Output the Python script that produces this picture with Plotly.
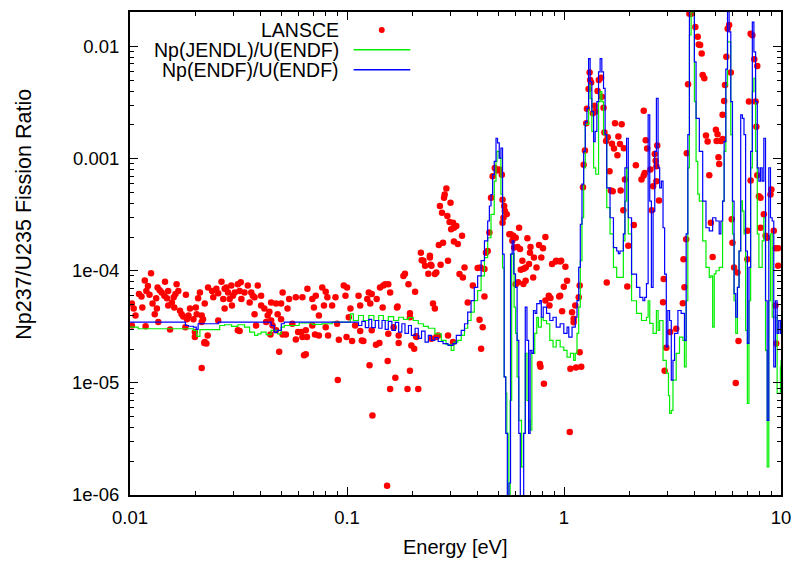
import plotly.graph_objects as go

# ---------------- data ----------------
lansce_energy = [
 0.0125,0.0117,0.0145,0.0121,0.0110,0.0113,0.0119,0.0123,0.0134,0.0137,0.0140,0.0144,0.0150,0.0148,0.0132,
 0.0164,0.0162,0.0159,0.0167,0.0102,0.0104,0.0106,0.0114,0.0127,0.0133,0.0130,0.0150,0.0156,0.0160,0.0181,
 0.0170,0.0173,0.0176,0.0183,0.0186,0.0189,0.0201,0.0203,0.0196,0.0214,0.0217,0.0210,0.0206,0.0221,0.0229,
 0.0239,0.0242,0.0250,0.0255,0.0264,0.0273,0.0269,0.0283,0.0278,0.0293,0.0304,0.0298,0.0288,0.0295,0.0273,
 0.0314,0.0324,0.0320,0.0326,0.0337,0.0349,0.0362,0.0368,0.0356,0.0375,0.0388,0.0402,0.0402,0.0416,0.0447,
 0.0471,0.0497,0.0479,0.0497,0.0439,0.0431,0.0447,0.0424,0.0454,0.0375,0.0381,0.0471,0.0135,0.0118,0.0102,
 0.0153,0.0199,0.0221,0.0314,0.0180,0.0214,0.0255,0.0214,0.0199,0.0220,0.0225,0.0228,0.0320,0.0487,0.0444,
 0.0505,0.0523,0.0581,0.0595,0.0616,0.0634,0.0646,0.0654,0.0712,0.0818,0.0907,0.0917,0.0995,0.1055,0.115,
 0.119,0.127,0.131,0.136,0.141,0.154,0.158,0.167,0.173,0.190,0.195,0.198,0.204,0.208,0.213,
 0.245,0.258,0.153,0.0505,0.0541,0.0532,0.0581,0.0623,0.0657,0.0692,0.0704,0.0718,0.0769,0.0798,0.0812,
 0.0783,0.0854,0.0742,0.0885,0.0966,0.1001,0.0984,0.1037,0.113,0.115,0.124,0.126,0.128,0.137,0.142,
 0.147,0.158,0.170,0.182,0.185,0.192,0.206,0.249,0.254,0.225,0.241,0.229,0.245,0.237,0.0623,
 0.0742,0.117,0.0560,0.0646,0.0692,0.0798,0.0900,0.1019,0.109,0.130,0.155,0.164,0.173,0.195,0.287,
 0.282,0.280,0.268,0.300,0.274,0.290,0.297,0.308,0.319,0.302,0.311,0.339,0.277,0.265,0.311,
 0.324,0.219,0.221,0.241,0.292,0.243,0.270,0.258,0.254,0.348,0.400,0.412,0.330,0.342,0.150,
 0.155,0.130,0.146,0.171,0.360,0.430,0.380,0.195,0.209,0.263,0.292,0.308,0.408,0.422,0.415,
 0.453,0.445,0.430,0.437,0.469,0.480,0.491,0.503,0.517,0.461,0.521,0.530,0.534,0.545,0.521,
 0.526,0.560,0.568,0.584,0.599,0.621,0.578,0.611,0.627,0.678,0.701,0.767,0.821,0.800,0.697,
 0.727,0.786,0.643,0.690,0.747,0.666,0.652,0.632,0.721,0.666,0.650,0.881,0.916,0.960,1.015,
 1.033,0.998,0.960,0.950,0.851,0.866,0.821,0.857,0.980,1.089,1.108,1.169,1.108,1.181,0.779,
 0.774,0.808,1.070,1.136,1.201,1.063,1.181,0.599,0.589,0.615,0.921,0.970,1.127,
 1.223,1.232,1.249,1.266,1.275,1.298,1.312,1.320,1.334,1.359,1.383,1.402,1.428,1.447,1.482,
 1.494,1.521,1.536,1.563,1.591,1.621,1.642,1.677,1.718,1.844,1.781,1.664,1.700,1.763,1.811,
 1.888,1.877,1.909,1.824,1.978,1.958,2.098,2.143,1.574,2.276,2.33,2.38,2.416,2.356,2.33,
 2.502,2.54,2.574,2.62,2.644,2.666,2.69,2.74,2.666,2.88,2.86,2.961,2.909,3.085,3.289,
 3.530,3.553,3.590,3.655,3.68,3.73,3.784,3.852,4.03,4.134,4.178,4.24,4.31,4.357,4.43,
 4.511,4.59,4.671,4.753,4.842,5.012,5.1,5.05,5.15,5.190,5.284,5.380,5.380,5.470,5.52,
 5.6,5.68,5.766,5.870,5.93,5.976,6.077,6.299,6.37,6.187,6.998,6.998,7.117,7.246,7.377,
 7.53,7.775,7.637,7.7,7.775,7.246,7.91,8.050,8.334,8.050,8.485,8.637,9.03,8.944,9.262,
 9.428,9.70,9.70,9.428,9.5,
]
lansce_ratio = [
 9.5e-5,8.2e-5,8.0e-5,7.3e-5,6.2e-5,5.9e-5,6.6e-5,6.1e-5,7.1e-5,6.7e-5,6.4e-5,6.0e-5,6.6e-5,5.7e-5,5.7e-5,
 7.6e-5,6.2e-5,5.8e-5,6.6e-5,5.1e-5,4.6e-5,4.0e-5,4.7e-5,5.1e-5,4.6e-5,4.1e-5,4.9e-5,5.2e-5,4.7e-5,6.1e-5,
 4.4e-5,4.1e-5,3.9e-5,3.7e-5,4.0e-5,4.6e-5,4.7e-5,4.1e-5,3.7e-5,4.0e-5,3.7e-5,6.4e-5,5.7e-5,5.1e-5,7.1e-5,
 6.6e-5,5.8e-5,6.9e-5,6.3e-5,8.0e-5,6.9e-5,5.6e-5,6.4e-5,7.1e-5,7.4e-5,6.4e-5,6.0e-5,5.6e-5,4.9e-5,4.6e-5,
 7.6e-5,7.9e-5,6.6e-5,5.6e-5,6.4e-5,7.4e-5,6.4e-5,6.0e-5,5.2e-5,5.8e-5,7.4e-5,6.0e-5,4.9e-5,4.6e-5,5.2e-5,
 5.1e-5,5.1e-5,4.1e-5,3.7e-5,4.3e-5,4.0e-5,3.6e-5,3.5e-5,3.25e-5,4.1e-5,3.25e-5,2.94e-5,3.5e-5,3.2e-5,3.25e-5,
 3.0e-5,2.84e-5,2.31e-5,2.94e-5,3.14e-5,3.5e-5,3.6e-5,1.36e-5,2.56e-5,2.27e-5,2.24e-5,2.65e-5,2.9e-5,1.9e-5,2.7e-5,
 2.7e-5,2.7e-5,2.44e-5,2.84e-5,2.84e-5,1.76e-5,1.8e-5,2.56e-5,2.7e-5,2.65e-5,1.06e-5,2.43e-5,2.56e-5,2.36e-5,2.9e-5,
 2.36e-5,1.44e-5,5.13e-6,2.19e-5,2.27e-5,1.57e-5,8.84e-6,1.11e-5,2.27e-5,8.84e-6,1.28e-5,2.16e-5,2.02e-5,2.61e-5,8.84e-6,
 2.48e-5,2.56e-5,1.21e-6,6.4e-5,5.6e-5,4.6e-5,5.8e-5,5.8e-5,6.9e-5,5.6e-5,4.7e-5,6.0e-5,7.1e-5,6.5e-5,5.8e-5,
 4.9e-5,4.9e-5,4.0e-5,5.8e-5,7.4e-5,7.1e-5,6.0e-5,4.6e-5,6.0e-5,4.9e-5,5.6e-5,6.4e-5,5.1e-5,5.6e-5,7.1e-5,
 7.4e-5,6.4e-5,4.7e-5,9.0e-5,9.4e-5,7.6e-5,6.5e-5,5.1e-5,4.6e-5,1.23e-4,1.31e-4,1.11e-4,1.11e-4,9.4e-5,2.56e-5,
 2.65e-5,2.39e-5,3.37e-5,2.94e-5,3.25e-5,3.14e-5,3.37e-5,3.85e-5,3.25e-5,2.94e-5,2.74e-5,3.14e-5,2.65e-5,3.85e-5,5.42e-4,
 4.79e-4,4.48e-4,3.78e-4,4.04e-4,3.29e-4,3.08e-4,2.72e-4,2.68e-4,2.51e-4,2.34e-4,2.42e-4,2.05e-4,1.78e-4,1.70e-4,1.82e-4,
 1.73e-4,1.45e-4,1.24e-4,1.36e-4,1.23e-4,1.13e-4,1.13e-4,9.67e-5,9.35e-5,1.07e-4,1.06e-4,1.07e-4,9.35e-5,8.72e-5,7.6e-5,
 7.6e-5,6.2e-5,4.7e-5,4.79e-5,5.2e-5,5.9e-5,7.4e-5,4.18e-5,2.56e-5,2.65e-5,2.65e-5,2.31e-5,3.66e-5,3.14e-5,2.02e-5,
 2.19e-4,1.5e-4,1.035e-4,1.45e-4,6.97e-4,8.26e-4,7.85e-4,7.99e-4,7.2e-4,4.48e-4,4.29e-4,3.78e-4,3.41e-4,3.19e-4,2.68e-4,
 2.97e-4,2.12e-4,2.12e-4,2.05e-4,1.97e-4,2.42e-4,1.85e-4,1.63e-4,1.56e-4,1.95e-4,1.63e-4,1.70e-4,2.0e-4,1.59e-4,1.45e-4,
 1.31e-4,1.31e-4,1.23e-4,1.15e-4,1.07e-4,1.07e-4,1.04e-4,1.02e-4,8.72e-5,8.16e-5,7.62e-5,1.15e-4,1.21e-4,1.21e-4,1.085e-4,
 8.16e-5,7.2e-5,6.0e-5,5.9e-5,6.0e-5,5.73e-5,5.42e-5,4.9e-5,4.36e-5,4.27e-5,3.73e-5,5.8e-5,3.48e-5,7.4e-5,1.39e-5,
 1.47e-5,9.8e-6,1.34e-5,1.37e-5,1.39e-5,3.65e-6,1.88e-5,7.6e-5,1.61e-4,7.9e-5,1.23e-4,1.23e-4,4.9e-5,
 5.57e-4,8.84e-4,1.18e-3,2.07e-3,2.78e-3,4.18e-3,5.87e-3,5.02e-3,4.78e-3,2.54e-3,2.97e-3,2.63e-3,4.01e-3,5.02e-3,5.27e-3,
 3.57e-3,2.85e-3,1.71e-3,1.44e-3,1.55e-3,7.72e-4,5.2e-4,5.13e-4,2.07e-3,2.03e-3,1.58e-3,1.36e-3,1.23e-3,1.07e-3,1.35e-3,
 1.24e-3,3.46e-4,6.5e-4,5.2e-4,1.67e-4,7.25e-5,2.56e-4,8.72e-4,7.87e-5,6.5e-4,2.67e-3,1.46e-3,1.23e-3,7.44e-4,7.06e-4,
 7.99e-4,3.46e-4,5.68e-4,1.1e-3,9.6e-4,8.55e-4,1.31e-3,4.24e-4,6.29e-4,8.44e-5,5.23e-5,2.06e-5,1.28e-5,2.84e-5,3.04e-5,
 5.13e-5,1.27e-4,7.12e-5,1.91e-4,1.12e-3,4.6e-3,1.96e-2,1.96e-2,1.49e-2,1.22e-2,1.04e-2,1.03e-2,8.66e-3,5.57e-3,5.2e-3,
 1.61e-3,1.42e-3,7.12e-4,2.68e-4,1.33e-4,1.81e-3,1.65e-3,1.44e-3,1.03e-3,8.97e-4,1.44e-3,1.5e-3,2.46e-3,3.27e-3,4.53e-3,
 8.09e-3,1.44e-2,1.56e-2,5.87e-3,2.88e-4,1.78e-4,1.07e-4,9.67e-5,2.36e-5,1.0e-5,2.27e-4,1.27e-4,3.23e-3,1.3e-2,1.26e-2,
 7.72e-3,6.7e-3,3.23e-3,1.93e-3,7.12e-4,6.4e-4,4.63e-4,4.48e-4,3.19e-4,2.42e-4,2.05e-4,1.97e-4,5.3e-4,4.79e-4,2.27e-4,
 1.59e-4,1.59e-4,1.11e-4,4.89e-5,2.24e-5,
]

jendl_energy = [
 0.0100,0.0109,0.0196,0.0203,0.0210,0.0259,0.0273,0.0294,0.0314,0.0337,0.0356,0.0375,0.0388,0.0402,0.0424,
 0.0447,0.0479,0.0497,0.0514,0.0602,0.0692,0.0767,0.0854,0.1019,0.1037,0.107,0.113,0.119,0.126,0.133,
 0.140,0.147,0.155,0.164,0.173,0.182,0.192,0.202,0.213,0.225,0.237,0.254,0.272,0.286,0.302,
 0.311,0.324,0.336,0.348,0.360,0.373,0.386,0.400,0.415,0.430,0.445,0.461,0.477,0.486,0.491,
 0.503,0.512,0.521,0.530,0.539,0.545,0.553,0.565,0.574,0.589,0.598,0.608,0.619,0.637,0.650,
 0.663,0.675,0.687,0.698,0.711,0.733,0.749,0.762,0.786,0.802,0.831,0.860,0.890,0.921,0.960,
 0.998,1.033,1.07,1.108,1.127,1.148,1.169,1.189,1.210,1.232,1.253,1.298,
 1.320,1.344,1.369,1.40,1.443,1.467,1.494,1.521,1.574,1.630,1.690,1.749,1.811,1.877,1.909,
 1.943,1.978,2.048,2.159,2.276,2.399,2.442,2.484,2.574,2.666,2.714,2.760,2.860,2.961,3.03,
 3.066,3.122,3.178,3.289,3.406,3.530,3.590,3.655,3.721,3.784,3.852,3.922,3.989,4.061,4.134,
 4.204,4.357,4.511,4.671,4.75,4.842,4.924,5.012,5.190,5.380,5.470,5.569,5.669,5.766,5.870,
 5.976,6.077,6.187,6.299,6.406,6.521,6.639,6.752,6.87,6.998,7.117,7.246,7.377,7.502,7.637,
 7.775,7.91,8.050,8.19,8.334,8.485,8.637,8.786,8.944,9.107,9.262,9.428,9.598,9.761,9.94,10.0,
]
jendl_ratio = [
 3.14e-5,3.04e-5,2.94e-5,2.6e-5,2.98e-5,3.25e-5,3.3e-5,3.19e-5,3.3e-5,3.14e-5,2.84e-5,2.65e-5,2.74e-5,2.84e-5,2.69e-5,
 2.94e-5,2.74e-5,3.14e-5,3.25e-5,3.42e-5,3.32e-5,3.37e-5,3.48e-5,3.48e-5,4.13e-5,3.6e-5,3.99e-5,3.6e-5,3.99e-5,3.6e-5,
 3.99e-5,3.6e-5,3.9e-5,3.6e-5,3.85e-5,3.68e-5,3.83e-5,3.6e-5,3.37e-5,3.19e-5,3.07e-5,2.74e-5,2.39e-5,2.2e-5,1.95e-5,
 2.31e-5,2.39e-5,2.65e-5,3.07e-5,3.6e-5,4.27e-5,5.42e-5,6.65e-5,9.0e-5,1.31e-4,1.97e-4,3.19e-4,6.29e-4,9.47e-4,1.16e-3,
 1.01e-3,4.82e-4,1.06e-4,1.13e-5,8.06e-6,3.55e-6,4e-7,6.97e-6,1.42e-4,4.73e-5,2.76e-5,1.13e-5,4.63e-6,1.78e-6,3.55e-6,
 1.83e-5,6.97e-6,4.63e-6,3.78e-6,1.83e-5,2.76e-5,3.85e-5,3.14e-5,3.85e-5,3.6e-5,3.37e-5,2.39e-5,2.09e-5,2.39e-5,2.09e-5,
 1.95e-5,1.7e-5,1.83e-5,1.59e-5,1.83e-5,2.76e-5,4.73e-5,1.23e-4,2.97e-4,8.26e-4,2.02e-3,4.53e-3,
 3.45e-3,1.75e-3,8.26e-4,7.26e-4,3.23e-3,3.96e-3,3.23e-3,1.64e-3,3.65e-4,2.13e-4,1.07e-4,8.72e-5,8.72e-5,1.85e-4,4.18e-4,
 8.26e-4,2.13e-4,5.4e-5,4.16e-5,3.6e-5,3.85e-5,5.4e-5,3.39e-5,2.76e-5,4.42e-5,2.94e-5,3.6e-5,1.59e-5,1.22e-5,7.72e-6,
 5.35e-6,5.68e-6,1.06e-5,1.83e-5,2.56e-5,2.39e-5,1.39e-5,5.4e-5,8.26e-4,1.27e-2,3.0e-2,2.03e-2,3.23e-3,9.47e-4,4.82e-4,
 4.18e-4,1.85e-4,1.07e-4,8.72e-5,9.0e-5,3.14e-5,9.4e-5,1.0e-4,1.07e-4,4.18e-4,1.16e-3,4.53e-3,1.1e-2,1.1e-2,1.64e-3,
 2.13e-4,5.4e-5,2.76e-5,7.1e-5,1.5e-4,4.18e-4,3.41e-4,2.13e-4,2.94e-5,6.55e-6,5.4e-5,8.26e-4,3.96e-3,5.2e-3,1.16e-3,
 2.13e-4,1.07e-4,1.07e-4,1.85e-4,2.97e-4,1.95e-5,1.78e-6,5.4e-5,2.13e-4,3.85e-5,3.85e-5,3.85e-5,8.06e-6,8.06e-6,1.39e-5,1.59e-5,
]

endf_energy = [
 0.0100,0.0176,0.0180,0.0186,0.0196,0.0202,0.0206,0.0229,0.0255,0.0431,0.0447,0.0462,0.0477,0.0498,0.0514,
 0.109,0.113,0.117,0.1215,0.126,0.130,0.135,0.140,0.145,0.150,0.155,0.161,0.167,0.173,0.179,
 0.185,0.192,0.198,0.206,0.213,0.2205,0.229,0.237,0.245,0.254,0.263,0.277,0.292,0.308,0.319,
 0.336,0.348,0.360,0.373,0.386,0.400,0.415,0.430,0.445,0.453,0.461,0.469,0.477,0.486,0.494,
 0.503,0.512,0.521,0.530,0.539,0.548,0.558,0.567,0.577,0.587,0.598,0.608,0.619,0.629,0.640,
 0.652,0.663,0.675,0.687,0.698,0.711,0.723,0.736,0.749,0.774,0.786,0.802,0.831,0.860,0.890,
 0.921,0.960,0.998,1.033,1.052,1.089,1.127,1.148,1.169,1.189,1.210,1.232,1.253,1.275,1.298,
 1.320,1.344,1.369,1.392,1.417,1.443,1.467,1.494,1.521,1.547,1.574,1.630,1.690,1.749,1.78,
 1.811,1.877,1.909,1.943,1.978,2.048,2.159,2.236,2.31,2.356,2.399,2.442,2.484,2.528,2.574,
 2.62,2.666,2.714,2.760,2.810,2.860,2.909,2.961,3.01,3.066,3.122,3.178,3.232,3.349,3.467,
 3.590,3.655,3.721,3.784,3.852,3.922,3.989,4.061,4.204,4.357,4.511,4.671,4.842,5.012,5.190,
 5.284,5.380,5.470,5.569,5.669,5.766,5.870,5.976,6.077,6.187,6.299,6.406,6.521,6.639,6.752,
 6.87,6.998,7.117,7.246,7.377,7.502,7.637,7.775,7.91,8.050,8.19,8.334,8.485,8.637,8.786,
 8.944,9.107,9.262,9.428,9.598,9.761,9.94,10.0,
]
endf_ratio = [
 3.48e-5,3.48e-5,3.25e-5,3.2e-5,3.14e-5,3.0e-5,3.37e-5,3.37e-5,3.48e-5,3.48e-5,3.25e-5,2.82e-5,2.94e-5,3.37e-5,3.48e-5,
 3.48e-5,3.25e-5,3.53e-5,3.11e-5,3.68e-5,3.11e-5,3.6e-5,3.07e-5,3.6e-5,3.0e-5,3.53e-5,2.94e-5,3.46e-5,2.84e-5,3.37e-5,
 2.76e-5,3.25e-5,2.65e-5,3.07e-5,2.49e-5,2.9e-5,2.31e-5,2.65e-5,2.39e-5,2.54e-5,2.34e-5,2.24e-5,2.16e-5,2.24e-5,2.65e-5,
 2.94e-5,3.37e-5,4.27e-5,5.42e-5,7.12e-5,9.0e-5,1.23e-4,1.85e-4,2.78e-4,3.78e-4,4.79e-4,7.2e-4,9.47e-4,1.52e-3,1.38e-3,
 1.01e-3,1.24e-3,1.41e-4,1.13e-5,3.55e-6,4e-7,1.28e-6,1.41e-4,1.85e-4,9.4e-5,7.12e-5,2.39e-5,3.55e-6,4e-7,4e-7,
 3.55e-6,4.73e-5,2.39e-5,3.55e-6,1.95e-5,1.83e-5,4.42e-5,4.16e-5,5.1e-5,5.42e-5,3.85e-5,4.73e-5,4.16e-5,3.6e-5,3.85e-5,
 3.14e-5,3.37e-5,2.76e-5,3.14e-5,2.56e-5,3.14e-5,3.85e-5,5.42e-5,1.07e-4,2.6e-4,5.92e-4,1.16e-3,2.14e-3,2.81e-3,7.8e-3,
 4.85e-3,2.63e-3,1.42e-3,1.75e-3,3.23e-3,5.95e-3,7.8e-3,5.95e-3,4.23e-3,1.64e-3,5.49e-4,2.97e-4,1.61e-4,1.5e-4,1.42e-4,
 1.5e-4,2.13e-4,8.26e-4,1.52e-3,2.97e-4,9.35e-5,7.1e-5,5.8e-5,5.4e-5,5.8e-5,7.67e-5,2.46e-3,4.18e-4,7.1e-5,3.41e-4,
 1.16e-3,3.45e-3,8.26e-4,5.49e-4,6.29e-4,2.42e-4,9.35e-5,2.09e-5,4.42e-5,3.6e-5,1.06e-5,1.59e-5,2.76e-5,4.42e-5,4.16e-5,
 2.39e-5,2.13e-4,1.64e-3,3.0e-2,3.5e-2,2.5e-2,7.3e-3,2.29e-3,1.16e-3,4.18e-4,2.42e-4,2.27e-4,2.97e-4,2.78e-4,2.13e-4,
 2.78e-4,4.18e-4,1.42e-3,6.3e-3,3.0e-2,1.35e-2,3.23e-3,4.18e-4,6.25e-5,3.85e-5,7.1e-5,1.5e-4,2.46e-3,2.29e-3,1.64e-3,
 1.5e-4,2.25e-5,1.07e-4,1.16e-3,1.65e-2,8.97e-3,3.23e-3,8.26e-4,6.29e-4,8.26e-4,6.29e-4,1.52e-3,5.4e-5,4.63e-6,8.26e-4,
 2.97e-4,2.78e-4,1.39e-5,5.4e-5,2.76e-5,3.6e-5,2.76e-5,3.6e-5,
]

series_names = ["LANSCE", "Np(JENDL)/U(ENDF)", "Np(ENDF)/U(ENDF)"]
x_tick_values = [0.01, 0.1, 1, 10]
x_tick_labels = ["0.01", "0.1", "1", "10"]
y_tick_values = [1e-6, 1e-5, 1e-4, 1e-3, 1e-2]
y_tick_labels = ["1e-06", "1e-05", "1e-04", "0.001", "0.01"]

# ---------------- styling ----------------
RED = "#ff0000"
GREEN = "#00ee00"
BLUE = "#0000ff"
FONT = "Liberation Sans, Arial, Helvetica, sans-serif"

fig = go.Figure()
fig.add_trace(go.Scatter(x=lansce_energy, y=lansce_ratio, mode="markers", name=series_names[0],
                         marker=dict(color=RED, size=6.5, line=dict(width=0)), showlegend=False))
fig.add_trace(go.Scatter(x=jendl_energy, y=jendl_ratio, mode="lines", name=series_names[1],
                         line=dict(color=GREEN, width=1.2, shape="hv"), showlegend=False))
fig.add_trace(go.Scatter(x=endf_energy, y=endf_ratio, mode="lines", name=series_names[2],
                         line=dict(color=BLUE, width=1.2, shape="hv"), showlegend=False))

x_minor = [m * 10.0 ** k for k in range(-2, 1) for m in range(2, 10)]
y_minor = [m * 10.0 ** k for k in range(-6, -1) for m in range(2, 10)]

axis_common = dict(type="log", showgrid=False, zeroline=False, showline=True,
                   linecolor="black", linewidth=2, mirror="ticks",
                   ticks="inside", ticklen=8, tickwidth=1.3, tickcolor="black",
                   tickfont=dict(family=FONT, size=18.5, color="black"))

fig.update_xaxes(**axis_common, range=[-2, 1], tickmode="array",
                 tickvals=x_tick_values, ticktext=x_tick_labels, ticklabelstandoff=5,
                 minor=dict(tickmode="array", tickvals=x_minor, ticks="inside",
                            ticklen=4, tickwidth=1.3, tickcolor="black", showgrid=False))
fig.update_yaxes(**axis_common, range=[-6, -1.692], tickmode="array",
                 tickvals=y_tick_values, ticktext=y_tick_labels, ticklabelstandoff=5,
                 minor=dict(tickmode="array", tickvals=y_minor, ticks="inside",
                            ticklen=4, tickwidth=1.3, tickcolor="black", showgrid=False))

# plot area: x 130..785, y 10..495 in the 801x561 picture
L, R, T, B = 130, 16, 10, 66
W, H = 801 - L - R, 561 - T - B

def px(xp):
    return (xp - L) / W

def py(yp):
    return (561 - B - yp) / H

annotations = [
    dict(text="Energy [eV]", x=0.5, y=py(547), xref="paper", yref="paper",
         showarrow=False, xanchor="center", yanchor="middle",
         font=dict(family=FONT, size=20, color="black")),
    dict(text="Np237/U235 Fission Ratio", x=px(24), y=py(213), xref="paper", yref="paper",
         showarrow=False, xanchor="center", yanchor="middle", textangle=-90,
         font=dict(family=FONT, size=21.5, color="black")),
]
shapes = []
legend_rows = [28, 48, 68]
for name, row in zip(series_names, legend_rows):
    annotations.append(dict(text=name, x=px(342), y=py(row), xref="paper", yref="paper",
                            showarrow=False, xanchor="right", yanchor="middle",
                            font=dict(family=FONT, size=19.5, color="black")))
# legend samples
shapes.append(dict(type="circle", xref="paper", yref="paper",
                   x0=px(380.3), x1=px(386.3), y0=py(31), y1=py(25),
                   fillcolor=RED, line=dict(width=0)))
shapes.append(dict(type="line", xref="paper", yref="paper",
                   x0=px(355), x1=px(412), y0=py(48), y1=py(48),
                   line=dict(color=GREEN, width=1.5)))
shapes.append(dict(type="line", xref="paper", yref="paper",
                   x0=px(355), x1=px(412), y0=py(68), y1=py(68),
                   line=dict(color=BLUE, width=1.5)))

fig.update_layout(width=801, height=561, margin=dict(l=L, r=R, t=T, b=B),
                  paper_bgcolor="white", plot_bgcolor="white",
                  annotations=annotations, shapes=shapes, showlegend=False,
                  font=dict(family=FONT, color="black"))

fig.write_html("out.html", config={"displayModeBar": False})
